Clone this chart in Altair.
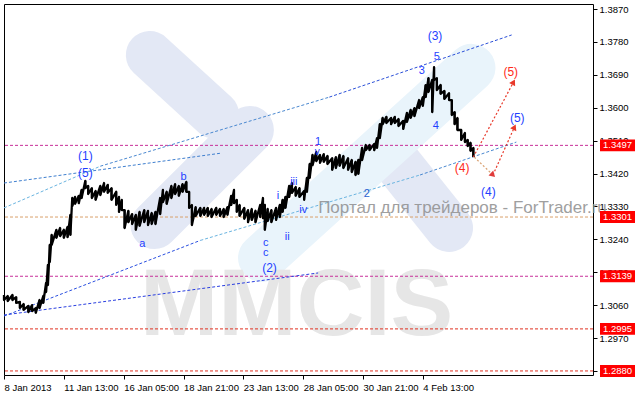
import altair as alt
import pandas as pd

# ---------------- data ----------------
# bar index (H1 bars from 8 Jan 2013) and high / low prices
bar_idx = [0, 4, 9, 13, 17, 21, 26, 30, 34, 38, 42, 45, 47, 49, 51, 56, 60, 64, 68, 71,
           73, 76, 80, 83, 87, 90, 94, 98, 103, 107, 111, 115, 120, 123, 126, 129, 133, 137, 141, 145,
           150, 154, 158, 162, 167, 170, 174, 179, 183, 187, 191, 195, 198, 201, 205, 210, 214, 218, 222, 227,
           231, 235, 239, 243, 246, 249, 252, 257, 261, 265, 269, 274, 277, 279, 282, 286, 291, 295, 298, 301,
           305, 308, 312, 316, 321, 324, 327, 330, 334, 338, 342, 346, 351, 355, 359, 363, 368, 372, 376, 379,
           383, 387, 391, 396, 399, 402, 405, 409, 414, 418, 422, 427, 431, 435, 439, 444, 448, 451, 454, 458,
           460, 463, 467, 471, 476, 479, 482, 485, 489, 493, 496, 499, 502]
bar_hi = [1.3088, 1.3085, 1.3088, 1.3082, 1.3069, 1.3063, 1.3058, 1.3060, 1.3052, 1.3074,
          1.3085, 1.3121, 1.3170, 1.3225, 1.3252, 1.3266, 1.3271, 1.3266, 1.3274, 1.3307,
          1.3353, 1.3356, 1.3359, 1.3375, 1.3400, 1.3386, 1.3380, 1.3372, 1.3386, 1.3394,
          1.3389, 1.3380, 1.3370, 1.3356, 1.3348, 1.3320, 1.3318, 1.3309, 1.3307, 1.3315,
          1.3320, 1.3318, 1.3312, 1.3315, 1.3353, 1.3375, 1.3370, 1.3386, 1.3391, 1.3386,
          1.3391, 1.3397, 1.3370, 1.3334, 1.3328, 1.3326, 1.3326, 1.3326, 1.3323, 1.3326,
          1.3323, 1.3323, 1.3328, 1.3359, 1.3375, 1.3348, 1.3334, 1.3326, 1.3320, 1.3323,
          1.3318, 1.3334, 1.3353, 1.3334, 1.3323, 1.3320, 1.3326, 1.3334, 1.3348, 1.3356,
          1.3386, 1.3394, 1.3383, 1.3380, 1.3372, 1.3408, 1.3446, 1.3471, 1.3479, 1.3471,
          1.3473, 1.3468, 1.3462, 1.3465, 1.3471, 1.3468, 1.3462, 1.3457, 1.3452, 1.3457,
          1.3490, 1.3498, 1.3498, 1.3501, 1.3517, 1.3555, 1.3572, 1.3575, 1.3572, 1.3575,
          1.3569, 1.3564, 1.3586, 1.3594, 1.3599, 1.3621, 1.3629, 1.3662, 1.3681, 1.3676,
          1.3711, 1.3681, 1.3662, 1.3646, 1.3640, 1.3621, 1.3588, 1.3572, 1.3539, 1.3531,
          1.3512, 1.3504, 1.3490]
bar_lo = [1.3074, 1.3071, 1.3074, 1.3066, 1.3052, 1.3047, 1.3041, 1.3044, 1.3039, 1.3052,
          1.3066, 1.3096, 1.3115, 1.3178, 1.3225, 1.3244, 1.3249, 1.3244, 1.3246, 1.3252,
          1.3331, 1.3337, 1.3339, 1.3353, 1.3380, 1.3364, 1.3353, 1.3348, 1.3361, 1.3370,
          1.3367, 1.3348, 1.3334, 1.3315, 1.3320, 1.3271, 1.3287, 1.3282, 1.3266, 1.3277,
          1.3287, 1.3279, 1.3282, 1.3282, 1.3309, 1.3342, 1.3337, 1.3353, 1.3364, 1.3359,
          1.3370, 1.3370, 1.3326, 1.3279, 1.3304, 1.3304, 1.3307, 1.3304, 1.3301, 1.3307,
          1.3304, 1.3301, 1.3307, 1.3334, 1.3339, 1.3315, 1.3304, 1.3296, 1.3287, 1.3293,
          1.3287, 1.3301, 1.3298, 1.3266, 1.3290, 1.3287, 1.3293, 1.3301, 1.3315, 1.3326,
          1.3356, 1.3367, 1.3359, 1.3356, 1.3348, 1.3370, 1.3408, 1.3443, 1.3454, 1.3449,
          1.3452, 1.3446, 1.3430, 1.3435, 1.3441, 1.3435, 1.3430, 1.3424, 1.3416, 1.3419,
          1.3457, 1.3484, 1.3484, 1.3484, 1.3490, 1.3517, 1.3555, 1.3558, 1.3555, 1.3558,
          1.3550, 1.3542, 1.3561, 1.3572, 1.3577, 1.3599, 1.3605, 1.3629, 1.3643, 1.3588,
          1.3676, 1.3648, 1.3638, 1.3624, 1.3621, 1.3580, 1.3555, 1.3539, 1.3512, 1.3506,
          1.3495, 1.3482, 1.3465]

# x-axis tick labels
tick_idx = [0, 64, 128, 192, 256, 320, 384, 448]
tick_lab = ["8 Jan 2013", "11 Jan 13:00", "16 Jan 05:00", "18 Jan 21:00",
            "23 Jan 13:00", "28 Jan 05:00", "30 Jan 21:00", "4 Feb 13:00"]
# y-axis tick values
ytick = [1.2880, 1.2970, 1.3060, 1.3150, 1.3240, 1.3330, 1.3420, 1.3510,
         1.3600, 1.3690, 1.3780, 1.3870]

# horizontal levels
level_val = [1.3497, 1.3301, 1.3139, 1.2995, 1.2880]
level_col = ["#c8309a", "#d9a06a", "#c8309a", "#e03020", "#e03020"]
level_lab = ["1.3497", "1.3301", "1.3139", "1.2995", "1.2880"]

# trend lines (start idx, start price, end idx, end price, colour)
tl_x1 = [0, 0, 103, 348, 0, 0, 210, 445]
tl_y1 = [1.3394, 1.3326, 1.3440, 1.3629, 1.3033, 1.3030, 1.3237, 1.3416]
tl_x2 = [233, 103, 348, 543, 336, 210, 445, 548]
tl_y2 = [1.3476, 1.3440, 1.3629, 1.3799, 1.3148, 1.3237, 1.3416, 1.3506]
tl_col = ["#3f7fcf", "#6ab4e0", "#4a88d0", "#2a4fd8", "#2a3fe0", "#2a4fe0", "#6ab4e0", "#4a88d0"]

# projection arrows
ar_x1 = [502, 503, 523]
ar_y1 = [1.3465, 1.3465, 1.3416]
ar_x2 = [545, 523, 546]
ar_y2 = [1.3670, 1.3416, 1.3547]
ar_col = ["#e8392a", "#d9a070", "#e8392a"]
ar_head_col = ["#e8392a", "#e03a3a", "#e8392a"]
ar_angle = [28, 134, 25]

# wave labels
wl_text = ["(1)", "(5)", "b", "a", "c", "c", "(2)", "ii", "i", "iii", "iv", "v", "1", "2",
           "3", "5", "(3)", "4", "(4)", "(5)", "(4)", "(5)"]
wl_x = [87, 87, 192, 148, 280, 280, 284, 303, 293, 310, 320, 335, 336, 388,
        447, 463, 461, 462, 518, 549, 490, 542]
wl_y = [1.3468, 1.3421, 1.3411, 1.3227, 1.3230, 1.3202, 1.3162, 1.3247, 1.3359, 1.3397,
        1.3320, 1.3479, 1.3506, 1.3364, 1.3700, 1.3739, 1.3796, 1.3550, 1.3370, 1.3572,
        1.3435, 1.3698]
wl_col = ["#1f3fff"] * 13 + ["#2a62d0"] + ["#1f3fff"] * 6 + ["#ff2a1a", "#ff2a1a"]
wl_size = [12, 12, 11, 11, 11, 11, 12, 11, 11, 11, 11, 10, 11, 11, 11, 11, 12, 11, 12, 12, 12, 12]

# watermark logo bands
lg_x1 = [156, 161, 418, 276]
lg_y1 = [1.3744, 1.3279, 1.3457, 1.3189]
lg_x2 = [226, 263, 476, 500]
lg_y2 = [1.3580, 1.3539, 1.3271, 1.3709]
lg_col = ["#e3e8f5", "#e3e8f5", "#e3e8f5", "#e9f4fb"]

FONT = "Liberation Sans"
XDOM = [0, 630]
YDOM = [1.28689, 1.38837]

bars = pd.DataFrame({"i": bar_idx, "hi": bar_hi, "lo": bar_lo})
levels = pd.DataFrame({"v": level_val, "c": level_col, "t": level_lab})
tls = pd.DataFrame({"x1": tl_x1, "y1": tl_y1, "x2": tl_x2, "y2": tl_y2, "c": tl_col})
arrows = pd.DataFrame({"x1": ar_x1, "y1": ar_y1, "x2": ar_x2, "y2": ar_y2, "c": ar_col,
                       "hc": ar_head_col, "a": ar_angle})
waves = pd.DataFrame({"t": wl_text, "x": wl_x, "y": wl_y, "c": wl_col, "s": wl_size})
logo = pd.DataFrame({"x1": lg_x1, "y1": lg_y1, "x2": lg_x2, "y2": lg_y2, "c": lg_col})

xs = alt.Scale(domain=XDOM, nice=False, zero=False)
ys = alt.Scale(domain=YDOM, nice=False, zero=False)

label_expr = " : ".join(f"datum.value == {v} ? '{l}'" for v, l in zip(tick_idx, tick_lab)) + " : ''"

x_axis = alt.Axis(values=tick_idx, labelExpr=label_expr, labelAlign="left", labelPadding=3,
                  tickSize=4, tickColor="black", labelColor="black", labelFont=FONT,
                  labelFontSize=9.5, domain=False, grid=False, title=None, labelOverlap=False,
                  labelFlush=False, orient="bottom")
y_axis = alt.Axis(values=ytick, format=".4f", orient="right", tickSize=4, tickColor="black",
                  labelColor="black", labelFont=FONT, labelFontSize=9.5, labelPadding=2,
                  domain=False, grid=False, title=None, labelOverlap=False, labelFlush=False)


def X(f):
    return alt.X(f, scale=xs, axis=x_axis)


def Y(f):
    return alt.Y(f, scale=ys, axis=y_axis)


# background logo
logo_layer = alt.Chart(logo).mark_rule(strokeWidth=48, strokeCap="round").encode(
    x=X("x1:Q"), y=Y("y1:Q"), x2="x2:Q", y2="y2:Q", color=alt.Color("c:N", scale=None))

mmcis = alt.Chart(pd.DataFrame({"t": ["MMCIS"], "x": [313], "y": [1.2978]})).mark_text(
    font=FONT, fontSize=94, fontWeight="bold", color="#e6e6e6",
    align="center", baseline="alphabetic").encode(x=X("x:Q"), y=Y("y:Q"), text="t:N")

level_layer = alt.Chart(levels).mark_rule(strokeDash=[3, 2], strokeWidth=1).encode(
    y=Y("v:Q"), color=alt.Color("c:N", scale=None))

tl_layer = alt.Chart(tls).mark_rule(strokeDash=[3, 2], strokeWidth=1).encode(
    x=X("x1:Q"), y=Y("y1:Q"), x2="x2:Q", y2="y2:Q", color=alt.Color("c:N", scale=None))

price_line = alt.Chart(bars).transform_fold(["hi", "lo"], as_=["k", "p"]).transform_calculate(
    o="datum.i * 2 + (datum.k == 'lo' ? 1 : 0)").mark_line(
    color="black", strokeWidth=2.3, strokeJoin="round").encode(
    x=X("i:Q"), y=Y("p:Q"), order="o:Q")
price_rule = alt.Chart(bars).mark_rule(color="black", strokeWidth=2).encode(
    x=X("i:Q"), y=Y("hi:Q"), y2="lo:Q")

arrow_lines = alt.Chart(arrows).mark_rule(strokeDash=[2, 2], strokeWidth=1.2).encode(
    x=X("x1:Q"), y=Y("y1:Q"), x2="x2:Q", y2="y2:Q", color=alt.Color("c:N", scale=None))
arrow_heads = alt.Chart(arrows).mark_point(shape="triangle-up", filled=True, size=45,
                                           opacity=1).encode(
    x=X("x2:Q"), y=Y("y2:Q"), color=alt.Color("hc:N", scale=None),
    angle=alt.Angle("a:Q", scale=None))

wave_layer = alt.Chart(waves).mark_text(font=FONT, align="center", baseline="middle").encode(
    x=X("x:Q"), y=Y("y:Q"), text="t:N", color=alt.Color("c:N", scale=None),
    size=alt.Size("s:Q", scale=None))

portal = alt.Chart(pd.DataFrame({"t": ["Портал для трейдеров - ForTrader.ru"], "x": [336],
                                 "y": [1.3326]})).mark_text(
    font=FONT, fontSize=17, color="#8f8f8f", opacity=0.85, align="left",
    baseline="middle").encode(x=X("x:Q"), y=Y("y:Q"), text="t:N")

box_shape = "M-1,-0.34 L1,-0.34 L1,0.34 L-1,0.34 Z"
boxes = alt.Chart(levels).mark_point(shape=box_shape, filled=True, size=1225, color="#ff0000",
                                     opacity=1).encode(x=alt.value(613.5), y=Y("v:Q"))
box_text = alt.Chart(levels).mark_text(font=FONT, fontSize=9.5, color="white", align="center",
                                       baseline="middle").encode(
    x=alt.value(613.5), y=Y("v:Q"), text="t:N")

chart = alt.layer(logo_layer, mmcis, level_layer, tl_layer, price_rule, price_line,
                  arrow_lines, arrow_heads, wave_layer, portal, boxes, box_text).properties(
    width=589, height=371, autosize="none",
    padding={"left": 4, "top": 4, "right": 42, "bottom": 20},
    background="white").configure_view(stroke="black", strokeWidth=1)

chart.save("out.html", embed_options={"renderer": "svg", "actions": False})
